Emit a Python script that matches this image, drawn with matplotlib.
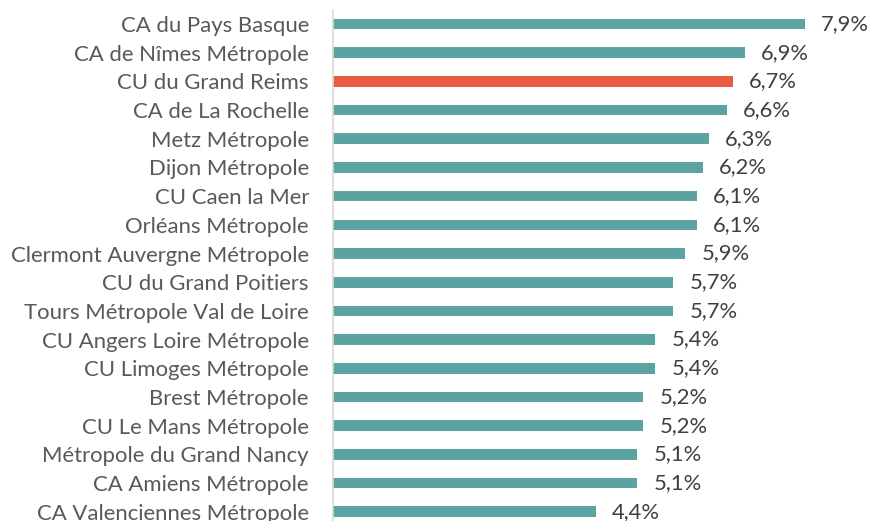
import matplotlib
matplotlib.use("Agg")
import matplotlib.pyplot as plt

categories = [
    "CA du Pays Basque",
    "CA de Nîmes Métropole",
    "CU du Grand Reims",
    "CA de La Rochelle",
    "Metz Métropole",
    "Dijon Métropole",
    "CU Caen la Mer",
    "Orléans Métropole",
    "Clermont Auvergne Métropole",
    "CU du Grand Poitiers",
    "Tours Métropole Val de Loire",
    "CU Angers Loire Métropole",
    "CU Limoges Métropole",
    "Brest Métropole",
    "CU Le Mans Métropole",
    "Métropole du Grand Nancy",
    "CA Amiens Métropole",
    "CA Valenciennes Métropole",
]
values = [7.9, 6.9, 6.7, 6.6, 6.3, 6.2, 6.1, 6.1, 5.9, 5.7, 5.7, 5.4, 5.4, 5.2, 5.2, 5.1, 5.1, 4.4]
value_labels = ["7,9%", "6,9%", "6,7%", "6,6%", "6,3%", "6,2%", "6,1%", "6,1%", "5,9%",
                "5,7%", "5,7%", "5,4%", "5,4%", "5,2%", "5,2%", "5,1%", "5,1%", "4,4%"]
highlight = "CU du Grand Reims"

teal = "#5BA3A0"
red = "#E85C41"

plt.rcParams['font.family'] = ['Lato', 'DejaVu Sans']

W, H = 869, 521
fig = plt.figure(figsize=(W / 100, H / 100), dpi=100)
x0 = 332.5
top_px = 10
ax = fig.add_axes([x0 / W, 0, (W - x0) / W, (H - top_px) / H])

px_per_unit = 59.8
spacing = 28.69
first_center = 24
ax.set_xlim(0, (W - x0) / px_per_unit)
ax.set_ylim((H - first_center) / spacing, (top_px - first_center) / spacing)

ypos = list(range(len(categories)))
colors = [red if c == highlight else teal for c in categories]
ax.barh(ypos, values, height=0.37, color=colors, edgecolor="none", zorder=2)

for y, v, lab in zip(ypos, values, value_labels):
    ax.text(v + 16 / px_per_unit, y, lab, va="center", ha="left",
            fontsize=15.8, color="#404040", clip_on=False)

ax.set_yticks(ypos)
ax.set_yticklabels(categories, fontsize=15.9, color="#595959")
ax.tick_params(axis="y", length=0, pad=17)
ax.set_xticks([])
for s in ["top", "right", "bottom"]:
    ax.spines[s].set_visible(False)
ax.spines["left"].set_color("#D9D9D9")
ax.spines["left"].set_linewidth(1.2)

fig.savefig("out.png", dpi=100)
